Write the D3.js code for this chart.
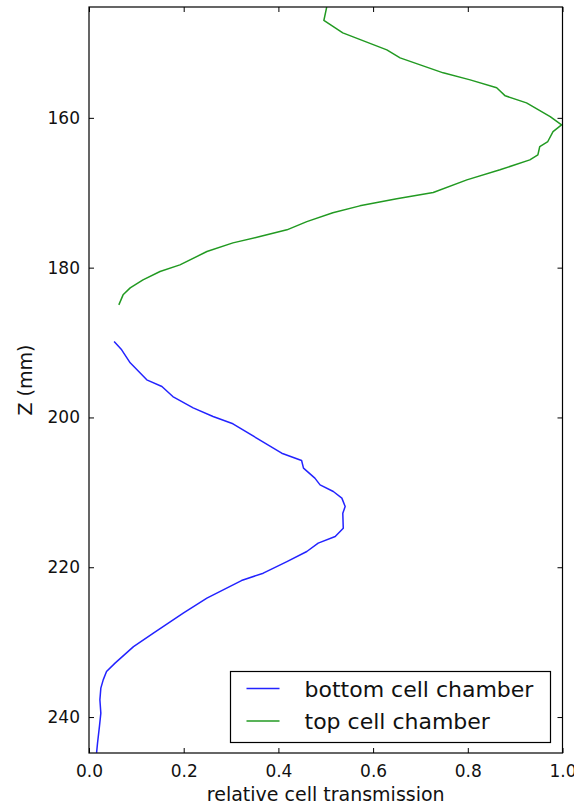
<!DOCTYPE html>
<html>
<head>
<meta charset="utf-8">
<script src="https://cdn.jsdelivr.net/npm/d3@7"></script>
<style>
  html, body { margin: 0; padding: 0; background: #fff; }
  svg { display: block; font-family: "DejaVu Sans", sans-serif; }
</style>
</head>
<body>
<svg id="chart" width="574" height="805"></svg>
<script>
// Transmission profiles along Z (mm) for the two cell chambers
const topZ = [145.22, 147.0, 148.65, 150.92, 151.99, 153.99, 154.93, 155.99, 157.06, 158.0,
  159.83, 160.93, 161.83, 163.16, 163.83, 164.94, 165.61, 166.94, 168.28, 169.97, 170.81,
  171.75, 172.68, 173.85, 174.95, 175.85, 176.69, 177.85, 179.63, 180.52, 181.63, 182.70,
  183.63, 184.97];
const topT = [0.502, 0.496, 0.536, 0.629, 0.657, 0.748, 0.805, 0.861, 0.879, 0.924,
  0.974, 0.998, 0.980, 0.969, 0.952, 0.948, 0.931, 0.868, 0.798, 0.727, 0.650,
  0.572, 0.515, 0.460, 0.418, 0.361, 0.304, 0.249, 0.192, 0.150, 0.114, 0.087,
  0.072, 0.063];

const bottomZ = [189.87, 190.97, 192.71, 194.98, 195.87, 197.21, 198.72, 199.88, 200.85,
  202.76, 204.77, 205.75, 206.77, 208.10, 209.0, 209.89, 210.77, 211.90, 212.78, 214.78,
  215.90, 216.78, 217.90, 219.24, 220.79, 221.78, 224.13, 226.13, 228.80, 230.59, 232.80,
  233.93, 235.04, 236.14, 237.70, 239.48, 241.27, 243.49, 244.78];
const bottomT = [0.053, 0.069, 0.087, 0.122, 0.154, 0.177, 0.220, 0.262, 0.304,
  0.354, 0.407, 0.449, 0.453, 0.477, 0.488, 0.516, 0.534, 0.541, 0.536, 0.537,
  0.520, 0.484, 0.460, 0.418, 0.368, 0.322, 0.249, 0.199, 0.136, 0.094, 0.055,
  0.037, 0.030, 0.025, 0.023, 0.025, 0.022, 0.018, 0.016];

const xTicks = [0.0, 0.2, 0.4, 0.6, 0.8, 1.0];
const yTicks = [160, 180, 200, 220, 240];
const seriesNames = ["bottom cell chamber", "top cell chamber"];
const seriesColors = ["#2323ff", "#229a22"];

const margin = { left: 89, top: 7, right: 574 - 562.5, bottom: 805 - 753 };
const W = 574, H = 805;
const pw = W - margin.left - margin.right;
const ph = H - margin.top - margin.bottom;

const svg = d3.select("#chart");
const g = svg.append("g").attr("transform", `translate(${margin.left},${margin.top})`);

const x = d3.scaleLinear().domain([0, 1]).range([0, pw]);
const y = d3.scaleLinear().domain([145.2, 244.8]).range([0, ph]);

svg.append("defs").append("clipPath").attr("id", "plotclip")
  .append("rect").attr("width", pw).attr("height", ph);

const line = d3.line().x(d => x(d[0])).y(d => y(d[1]));
const series = [
  d3.zip(bottomT, bottomZ),
  d3.zip(topT, topZ)
];

const plot = g.append("g").attr("clip-path", "url(#plotclip)");
series.forEach((s, i) => {
  plot.append("path").datum(s)
    .attr("d", line)
    .attr("fill", "none")
    .attr("stroke", seriesColors[i])
    .attr("stroke-width", 1.5)
    .attr("stroke-linejoin", "round");
});

// Axes with inward ticks on all four sides
const tickLen = 5;
const fmtX = d3.format(".1f");
const bottomAxis = d3.axisBottom(x).tickValues(xTicks).tickFormat(fmtX).tickSizeInner(-tickLen).tickSizeOuter(0).tickPadding(12);
const topAxis = d3.axisTop(x).tickValues(xTicks).tickFormat("").tickSizeInner(-tickLen).tickSizeOuter(0);
const leftAxis = d3.axisLeft(y).tickValues(yTicks).tickFormat(d3.format("d")).tickSizeInner(-tickLen).tickSizeOuter(0).tickPadding(9);
const rightAxis = d3.axisRight(y).tickValues(yTicks).tickFormat("").tickSizeInner(-tickLen).tickSizeOuter(0);

function styleAxis(sel) {
  sel.select(".domain").remove();
  sel.selectAll(".tick line").attr("stroke", "#000").attr("stroke-width", 1);
  sel.selectAll(".tick text").attr("fill", "#111").attr("font-size", 17)
    .attr("font-family", "DejaVu Sans, sans-serif");
}

g.append("g").attr("transform", `translate(0,${ph})`).call(bottomAxis).call(styleAxis);
g.append("g").call(topAxis).call(styleAxis);
g.append("g").call(leftAxis).call(styleAxis);
g.append("g").attr("transform", `translate(${pw},0)`).call(rightAxis).call(styleAxis);

// Frame
g.append("rect").attr("width", pw).attr("height", ph)
  .attr("fill", "none").attr("stroke", "#000").attr("stroke-width", 1.2);

// Axis titles
svg.append("text")
  .attr("x", margin.left + pw / 2).attr("y", 801)
  .attr("text-anchor", "middle").attr("font-size", 19).attr("fill", "#111")
  .text("relative cell transmission");
svg.append("text")
  .attr("transform", `translate(32,${margin.top + ph / 2}) rotate(-90)`)
  .attr("text-anchor", "middle").attr("font-size", 19).attr("fill", "#111")
  .text("Z (mm)");

// Legend
const lg = svg.append("g").attr("transform", "translate(230.5,671.5)");
lg.append("rect").attr("width", 320).attr("height", 71)
  .attr("fill", "#fff").attr("stroke", "#000").attr("stroke-width", 1.2);
seriesNames.forEach((name, i) => {
  const yy = 17 + i * 32.5;
  lg.append("line").attr("x1", 16).attr("x2", 49).attr("y1", yy).attr("y2", yy)
    .attr("stroke", seriesColors[i]).attr("stroke-width", 1.5);
  lg.append("text").attr("x", 74).attr("y", yy + 8)
    .attr("font-size", 22).attr("fill", "#111").text(name);
});
</script>
</body>
</html>
